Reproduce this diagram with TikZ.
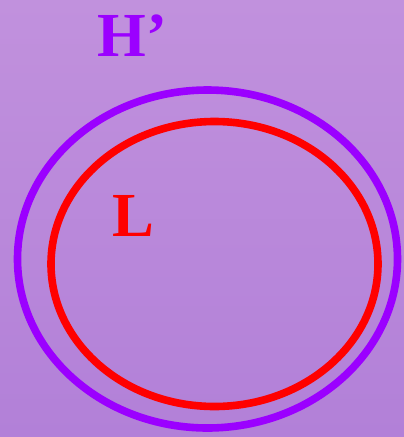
\documentclass[tikz,border=0pt]{standalone}
\usepackage{fontspec}
\setmainfont{Liberation Serif}
\definecolor{bgtop}{RGB}{193,145,221}
\definecolor{bgbot}{RGB}{178,128,216}
\definecolor{violetline}{RGB}{155,0,255}

\begin{document}
\begin{tikzpicture}[x=0.75pt, y=-0.75pt, every node/.style={font=\bfseries\fontsize{47}{47}\selectfont, inner sep=0pt}]
  % Define styles
  \tikzstyle{ring} = [line width=5.7pt]

  % Background
  \shade[top color=bgtop, bottom color=bgbot] (0,0) rectangle (404,437);
  \useasboundingbox (0,0) rectangle (404,437);

  % Sets
  \coordinate (hcenter) at (207.5,259);
  \coordinate (lcenter) at (214.5,264);
  \draw[ring, violetline] (hcenter) ellipse [x radius=190, y radius=169];
  \draw[ring, red] (lcenter) ellipse [x radius=163.5, y radius=142.5];

  % Labels
  \node[anchor=base west, text=violetline] (hlabel) at (97,56) {H’};
  \node[anchor=base west, text=red] (llabel) at (112,236) {L};
\end{tikzpicture}
\end{document}
